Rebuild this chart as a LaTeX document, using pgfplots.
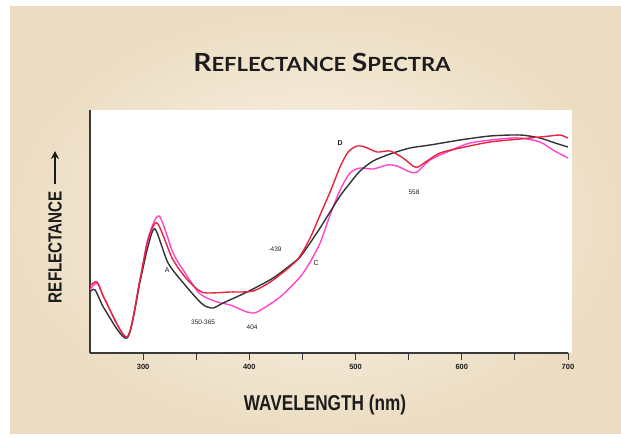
\documentclass[border=0pt]{standalone}
\usepackage{fontspec}
\setmainfont{Liberation Sans}
\newfontfamily\titlefont{Lato}
\usepackage{graphicx}
\usepackage{pgfplots}
\pgfplotsset{compat=1.18}
\usetikzlibrary{arrows.meta}
\definecolor{beigeout}{HTML}{ECDDC2}
\definecolor{beigein}{HTML}{FBF7EE}
\definecolor{curveblack}{HTML}{303434}
\definecolor{curvered}{HTML}{E8233F}
\definecolor{curvepink}{HTML}{FF45CC}
\definecolor{axisgray}{HTML}{3A3A3A}
\definecolor{txt}{HTML}{1C1C1C}
\begin{document}
\begin{tikzpicture}[x=1pt,y=1pt]
\fill[white] (0,0) rectangle (621,437);
\shade[inner color=beigein, outer color=beigeout] (10,4) rectangle (621,430);
\fill[white] (90,84) rectangle (572,327);
% title
\node[txt, inner sep=0pt] at (322,375) {\scalebox{1.13}[1]{\titlefont\bfseries{\fontsize{25}{25}\selectfont R}{\fontsize{19.5}{20}\selectfont EFLECTANCE}\hspace{5pt}{\fontsize{25}{25}\selectfont S}{\fontsize{19.5}{20}\selectfont PECTRA}}};
% x label
\node[txt, inner sep=0pt] at (325,32) {\fontsize{21.5}{22}\bfseries\selectfont\scalebox{0.8}[1]{WAVELENGTH (nm)}};
% y label
\node[txt, inner sep=0pt, rotate=90] at (55,190) {\fontsize{19}{20}\bfseries\selectfont\scalebox{0.8}[1]{REFLECTANCE}};
\draw[txt, line width=2.2pt, -{Stealth[length=8pt,width=8pt]}] (55,253) -- (55,286);
\begin{axis}[
  at={(90pt,84pt)}, anchor=south west,
  scale only axis, width=478pt, height=243pt,
  xmin=250, xmax=700, ymin=0, ymax=243,
  axis x line=bottom, axis y line=left,
  axis line style={-, line width=1.1pt, color=axisgray},
  ytick=\empty,
  xtick={300,350,...,700},
  xticklabels={300,,400,,500,,600,,700},
  tick align=outside, major tick length=7pt,
  tick style={line width=0.8pt, color=axisgray},
  xticklabel style={font=\fontsize{7.5}{8}\bfseries\selectfont, text=txt, yshift=-1pt},
  every axis plot/.append style={line width=1.4pt, smooth, tension=0.45},
]
\addplot[curvepink] coordinates {
(250,63) (256.7,70) (264.2,53) (285,16) (297.2,74) (304.7,115) (315.1,137)
(328.2,100) (339.5,80) (351.8,61) (360.2,55) (369.6,51) (381.9,48) (397.9,41)
(407.3,41) (428.9,56) (447.8,76) (457.2,91) (466.6,110) (476,138) (485.4,163)
(494.8,180) (504.2,185) (516.5,184) (529.6,188) (539,187) (551.3,181) (557.9,181)
(570.1,193) (586.1,201) (607.8,210) (636,214) (654.8,215) (673.6,211) (685.9,203) (700,195)
};
\addplot[curveblack] coordinates {
(250,61) (254.8,63) (264.2,43) (285,15) (297.2,72) (304.7,107) (311.3,124)
(323.5,90) (339.5,68) (351.8,53) (358.4,47) (366,45) (375.3,50) (397.9,61)
(422.4,75) (441.2,90) (447.8,96) (457.2,110) (466.6,125) (476,141) (485.4,157)
(494.8,170) (504.2,182) (516.5,192) (532.5,199) (551.3,205) (570.1,208) (598.4,213)
(626.6,217) (654.8,218) (673.6,215) (687.8,210) (700,206)
};
\addplot[curvered] coordinates {
(250,67) (256.7,71) (264.2,53) (285,16) (297.2,74) (304.7,113) (313.2,130)
(327.3,95) (339.5,76) (351.8,63) (360.2,60) (381.9,61) (403.5,62) (422.4,73)
(444.9,93) (457.2,115) (466.6,138) (476,161) (485.4,186) (493,201) (501.4,207)
(508.9,206) (520.2,201) (532.5,202) (544.7,195) (554.1,187) (558.8,186) (567.3,192)
(579.5,200) (598.4,205) (626.6,211) (654.8,214) (683,217) (692.5,218) (700,215)
};
\node[txt, font=\fontsize{7}{8}\selectfont] at (axis cs:322.6,83) {A};
\node[txt, font=\fontsize{7}{8}\bfseries\selectfont] at (axis cs:485.4,210) {D};
\node[txt, font=\fontsize{7}{8}\selectfont] at (axis cs:462.8,90) {C};
\node[txt, font=\fontsize{6.5}{8}\selectfont] at (axis cs:424.2,104) {-439};
\node[txt, font=\fontsize{6.5}{8}\selectfont] at (axis cs:356.5,31) {350-365};
\node[txt, font=\fontsize{6.5}{8}\selectfont] at (axis cs:402.6,26) {404};
\node[txt, font=\fontsize{6.5}{8}\selectfont] at (axis cs:555,161) {558};
\end{axis}
\end{tikzpicture}
\end{document}
